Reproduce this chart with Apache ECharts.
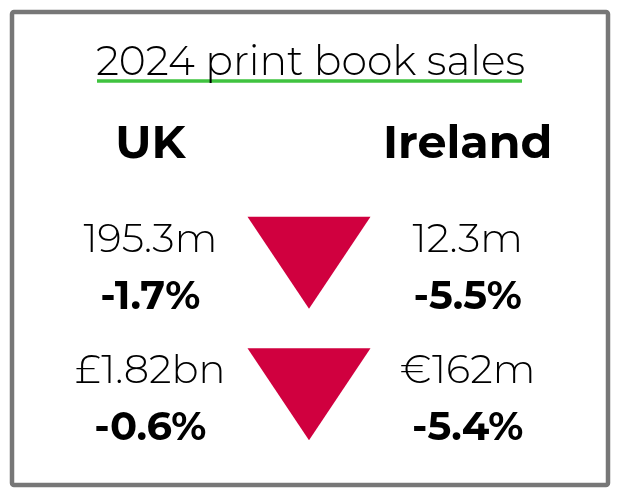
<!DOCTYPE html>
<html>
<head>
<meta charset="utf-8">
<script src="https://cdn.jsdelivr.net/npm/echarts@6/dist/echarts.min.js"></script>
<style>
  html, body { margin: 0; padding: 0; background: #fff; }
  #main { width: 621px; height: 496px; }
</style>
</head>
<body>
<div id="main"></div>
<script>
// columns: UK, arrow, Ireland
var columns = ['UK', '', 'Ireland'];
var metrics = ['Volume', 'Value'];
var ukValues = ['195.3m', '£1.82bn'];
var ukChange = [-1.7, -0.6];
var ieValues = ['12.3m', '€162m'];
var ieChange = [-5.5, -5.4];

var FONT = 'Montserrat, "Noto Sans", sans-serif';

var valuePoints = [];
var changePoints = [];
var arrowPoints = [];
metrics.forEach(function (m, i) {
	valuePoints.push([0, i, ukValues[i]]);
	valuePoints.push([2, i, ieValues[i]]);
	changePoints.push([0, i, ukChange[i]]);
	changePoints.push([2, i, ieChange[i]]);
	arrowPoints.push([1, i, Math.min(ukChange[i], ieChange[i])]);
});

var myChart = echarts.init(document.getElementById('main'));
var option = {
	backgroundColor: '#fff',
	animation: false,
	title: {
		text: '2024 print book sales',
		left: 'center',
		top: 37,
		textStyle: { fontFamily: FONT, fontWeight: 300, fontSize: 41, color: '#000' }
	},
	graphic: [
		{
			type: 'rect',
			shape: { x: 12, y: 12, width: 596, height: 473, r: 2 },
			style: { fill: 'none', stroke: '#777', lineWidth: 4.5 }
		},
		{
			type: 'line',
			shape: { x1: 97, y1: 81, x2: 522, y2: 81 },
			style: { stroke: '#3fc33f', lineWidth: 3.5 }
		}
	],
	grid: { left: 71, right: 74, top: 197, bottom: 36 },
	xAxis: {
		type: 'category',
		data: columns,
		position: 'top',
		axisLine: { show: false },
		axisTick: { show: false },
		splitLine: { show: false },
		axisLabel: {
			interval: 0,
			margin: 53,
			verticalAlign: 'middle',
			fontFamily: FONT,
			fontWeight: 'bold',
			fontSize: 46,
			color: '#000'
		}
	},
	yAxis: {
		type: 'category',
		data: metrics,
		inverse: true,
		show: false
	},
	series: [
		{
			name: 'arrows',
			type: 'scatter',
			data: arrowPoints,
			symbol: 'triangle',
			symbolRotate: 180,
			symbolSize: [123, 92],
			itemStyle: { color: '#d0003f', opacity: 1 },
			silent: true
		},
		{
			name: 'values',
			type: 'scatter',
			data: valuePoints,
			symbolSize: 0,
			itemStyle: { opacity: 1 },
			label: {
				show: true,
				position: 'inside',
				offset: [0, -23],
				formatter: function (p) { return p.value[2]; },
				fontFamily: FONT,
				fontWeight: 300,
				fontSize: 40,
				color: '#000'
			}
		},
		{
			name: 'changes',
			type: 'scatter',
			data: changePoints,
			symbolSize: 0,
			itemStyle: { opacity: 1 },
			label: {
				show: true,
				position: 'inside',
				offset: [0, 34],
				formatter: function (p) { return p.value[2].toFixed(1) + '%'; },
				fontFamily: FONT,
				fontWeight: 'bold',
				fontSize: 40,
				color: '#000'
			}
		}
	]
};
myChart.setOption(option);
</script>
</body>
</html>
